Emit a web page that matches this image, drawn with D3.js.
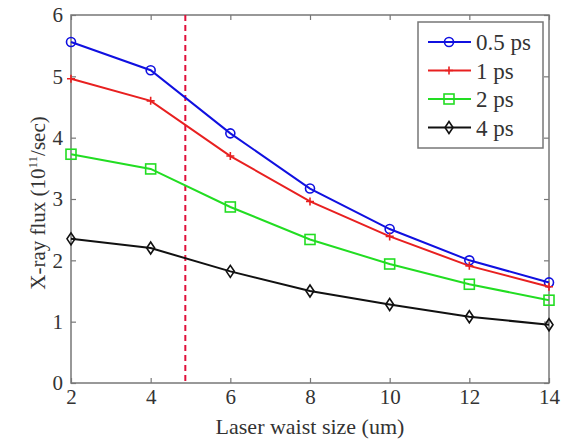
<!DOCTYPE html>
<html lang="en">
<head>
  <meta charset="UTF-8">
  <title>X-ray flux vs laser waist size</title>
  <script src="https://d3js.org/d3.v7.min.js"></script>
  <style>
    body { margin: 0; background: #fff; }
    svg text { font-family: "Liberation Serif", "Times New Roman", serif; fill: #333; }
  </style>
</head>
<body>
  <div id="chart"></div>
  <script>
    // data
    const waist = [2, 4, 6, 8, 10, 12, 14]
    const seriesNames = ['0.5 ps', '1 ps', '2 ps', '4 ps']
    const flux05 = [5.56, 5.10, 4.07, 3.17, 2.51, 2.00, 1.64]
    const flux1 = [4.96, 4.60, 3.70, 2.96, 2.39, 1.91, 1.57]
    const flux2 = [3.73, 3.49, 2.87, 2.34, 1.94, 1.61, 1.35]
    const flux4 = [2.35, 2.20, 1.82, 1.50, 1.28, 1.08, 0.95]
    const xTicks = [2, 4, 6, 8, 10, 12, 14]
    const yTicks = [0, 1, 2, 3, 4, 5, 6]
    const cutoff = 4.87

    const colors = ['#1010e0', '#e82020', '#22dd22', '#111111']
    const markers = ['circle', 'plus', 'square', 'diamond']
    const allSeries = [flux05, flux1, flux2, flux4]

    const W = 562, H = 439
    const pLeft = 71, pRight = 549, pTop = 15, pBottom = 383

    const svg = d3.select('#chart').append('svg')
      .attr('width', W)
      .attr('height', H)

    const x = d3.scaleLinear().domain([2, 14]).range([pLeft, pRight])
    const y = d3.scaleLinear().domain([0, 6]).range([pBottom, pTop])

    // frame
    svg.append('rect')
      .attr('x', pLeft).attr('y', pTop)
      .attr('width', pRight - pLeft).attr('height', pBottom - pTop)
      .attr('fill', 'none').attr('stroke', '#777').attr('stroke-width', 1.5)

    // ticks pointing inward on all sides
    const axisStyle = g => {
      g.attr('font-family', '"Liberation Serif", serif')
      g.select('.domain').remove()
      g.selectAll('.tick line').attr('stroke', '#777').attr('stroke-width', 1.2)
      g.selectAll('.tick text').style('font-size', '21px').attr('fill', '#333')
    }
    const fmt = d3.format('d')
    svg.append('g').attr('transform', `translate(0,${pBottom})`)
      .call(d3.axisBottom(x).tickValues(xTicks).tickFormat(fmt).tickSizeInner(-5).tickSizeOuter(0).tickPadding(6))
      .call(axisStyle)
    svg.append('g').attr('transform', `translate(0,${pTop})`)
      .call(d3.axisTop(x).tickValues(xTicks).tickSizeInner(-5).tickSizeOuter(0).tickFormat(''))
      .call(axisStyle)
    svg.append('g').attr('transform', `translate(${pLeft},0)`)
      .call(d3.axisLeft(y).tickValues(yTicks).tickFormat(fmt).tickSizeInner(-5).tickSizeOuter(0).tickPadding(8))
      .call(axisStyle)
    svg.append('g').attr('transform', `translate(${pRight},0)`)
      .call(d3.axisRight(y).tickValues(yTicks).tickSizeInner(-5).tickSizeOuter(0).tickFormat(''))
      .call(axisStyle)

    // dashed cutoff line
    svg.append('line')
      .attr('x1', x(cutoff)).attr('x2', x(cutoff))
      .attr('y1', y(6)).attr('y2', y(0))
      .attr('stroke', '#e0103a').attr('stroke-width', 2)
      .attr('stroke-dasharray', '6,4')

    function drawMarker(g, type, cx, cy, color) {
      if (type === 'circle') {
        g.append('circle').attr('cx', cx).attr('cy', cy).attr('r', 4.5)
          .attr('fill', 'none').attr('stroke', color).attr('stroke-width', 1.6)
      } else if (type === 'plus') {
        g.append('path').attr('d', `M${cx - 4},${cy}H${cx + 4}M${cx},${cy - 4}V${cy + 4}`)
          .attr('stroke', color).attr('stroke-width', 1.6)
      } else if (type === 'square') {
        g.append('rect').attr('x', cx - 5).attr('y', cy - 5).attr('width', 10).attr('height', 10)
          .attr('fill', 'none').attr('stroke', color).attr('stroke-width', 1.6)
      } else {
        g.append('path').attr('d', `M${cx},${cy - 6}L${cx + 4},${cy}L${cx},${cy + 6}L${cx - 4},${cy}Z`)
          .attr('fill', 'none').attr('stroke', color).attr('stroke-width', 1.6)
      }
    }

    const line = d3.line().x((d, i) => x(waist[i])).y(d => y(d))

    allSeries.forEach((vals, s) => {
      const g = svg.append('g')
      g.append('path').datum(vals)
        .attr('d', line)
        .attr('fill', 'none')
        .attr('stroke', colors[s])
        .attr('stroke-width', 2)
      vals.forEach((v, i) => drawMarker(g, markers[s], x(waist[i]), y(v), colors[s]))
    })

    // legend
    const lg = svg.append('g').attr('transform', 'translate(418,22)')
    lg.append('rect').attr('width', 125).attr('height', 126)
      .attr('fill', '#fff').attr('stroke', '#777').attr('stroke-width', 1.5)
    seriesNames.forEach((name, s) => {
      const yy = 20 + s * 28.5
      lg.append('line').attr('x1', 10).attr('x2', 53).attr('y1', yy).attr('y2', yy)
        .attr('stroke', colors[s]).attr('stroke-width', 2)
      drawMarker(lg, markers[s], 31, yy, colors[s])
      lg.append('text').attr('x', 58).attr('y', yy + 8)
        .style('font-size', '23px').text(name)
    })

    // axis labels
    svg.append('text')
      .attr('x', (pLeft + pRight) / 2).attr('y', 434)
      .attr('text-anchor', 'middle')
      .style('font-size', '22px')
      .text('Laser waist size (um)')

    const yl = svg.append('text')
      .attr('transform', `translate(45,203) rotate(-90)`)
      .attr('text-anchor', 'middle')
      .style('font-size', '21px')
    yl.append('tspan').text('X-ray flux (10')
    yl.append('tspan').attr('dy', -8).style('font-size', '13px').text('11')
    yl.append('tspan').attr('dy', 8).text('/sec)')
  </script>
</body>
</html>
